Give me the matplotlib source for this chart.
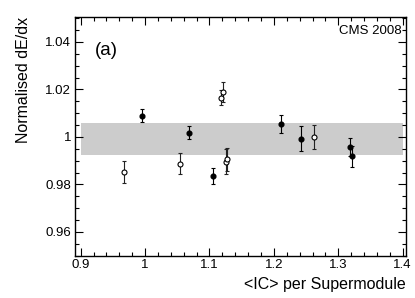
import matplotlib
matplotlib.use("Agg")
from matplotlib import pyplot as plt
from matplotlib.ticker import MultipleLocator

# open markers
OPEN_X = [0.967, 1.055, 1.118, 1.121, 1.125, 1.127, 1.262]
OPEN_Y = [0.9853, 0.9888, 1.0165, 1.0190, 0.9895, 0.9905, 1.0000]
OPEN_ERR = [0.0045, 0.0045, 0.0032, 0.0042, 0.0053, 0.0050, 0.0052]

# filled markers
FILL_X = [0.9955, 1.068, 1.106, 1.211, 1.242, 1.318, 1.322]
FILL_Y = [1.0089, 1.0018, 0.9836, 1.0055, 0.9993, 0.9957, 0.9918]
FILL_ERR = [0.0027, 0.0028, 0.0033, 0.0039, 0.0052, 0.0037, 0.0044]

BAND_X = [0.9, 1.4]
BAND_LO = 0.9924
BAND_HI = 1.0058

X_TICKS = [0.9, 1.0, 1.1, 1.2, 1.3, 1.4]
X_TICKLABELS = ["0.9", "1", "1.1", "1.2", "1.3", "1.4"]
Y_TICKS = [0.96, 0.98, 1.0, 1.02, 1.04]
Y_TICKLABELS = ["0.96", "0.98", "1", "1.02", "1.04"]


def main():
    plt.rcParams["font.family"] = ["Liberation Sans", "DejaVu Sans"]

    fig = plt.figure(figsize=(4.15, 2.98), dpi=100)
    fig.set_facecolor("white")
    ax = fig.add_axes([0.180, 0.142, 0.798, 0.801])

    ax.fill_between(BAND_X, BAND_LO, BAND_HI, color="#cccccc", lw=0, zorder=1)

    ax.errorbar(FILL_X, FILL_Y, yerr=FILL_ERR, fmt="o", ms=3.4, mfc="black", mec="black",
                ecolor="black", elinewidth=0.8, capsize=1.2, capthick=0.8, zorder=3)
    ax.errorbar(OPEN_X, OPEN_Y, yerr=OPEN_ERR, fmt="o", ms=3.6, mfc="white", mec="black", mew=0.8,
                ecolor="#222222", elinewidth=0.8, capsize=1.2, capthick=0.8, zorder=3)

    ax.set_xlim(0.8907, 1.405)
    ax.set_ylim(0.95, 1.0505)

    ax.set_xticks(X_TICKS)
    ax.set_xticklabels(X_TICKLABELS)
    ax.set_yticks(Y_TICKS)
    ax.set_yticklabels(Y_TICKLABELS)
    ax.xaxis.set_minor_locator(MultipleLocator(0.02))
    ax.yaxis.set_minor_locator(MultipleLocator(0.005))

    ax.tick_params(which="both", direction="in", top=True, right=True, labelsize=9.5, pad=2.5, width=0.8)
    ax.tick_params(which="major", length=6)
    ax.tick_params(which="minor", length=3)
    for sp in ax.spines.values():
        sp.set_linewidth(1.0)

    ax.set_xlabel("<IC> per Supermodule", fontsize=11.5, loc="right", labelpad=4)
    ax.set_ylabel("Normalised dE/dx", fontsize=11.5, loc="top", labelpad=10)

    ax.text(0.062, 0.84, "(a)", transform=ax.transAxes, fontsize=13.5)
    ax.text(0.986, 0.94, "CMS 2008", transform=ax.transAxes, fontsize=9.5, ha="right", va="center")

    fig.savefig("out.png", dpi=100)


if __name__ == "__main__":
    main()
